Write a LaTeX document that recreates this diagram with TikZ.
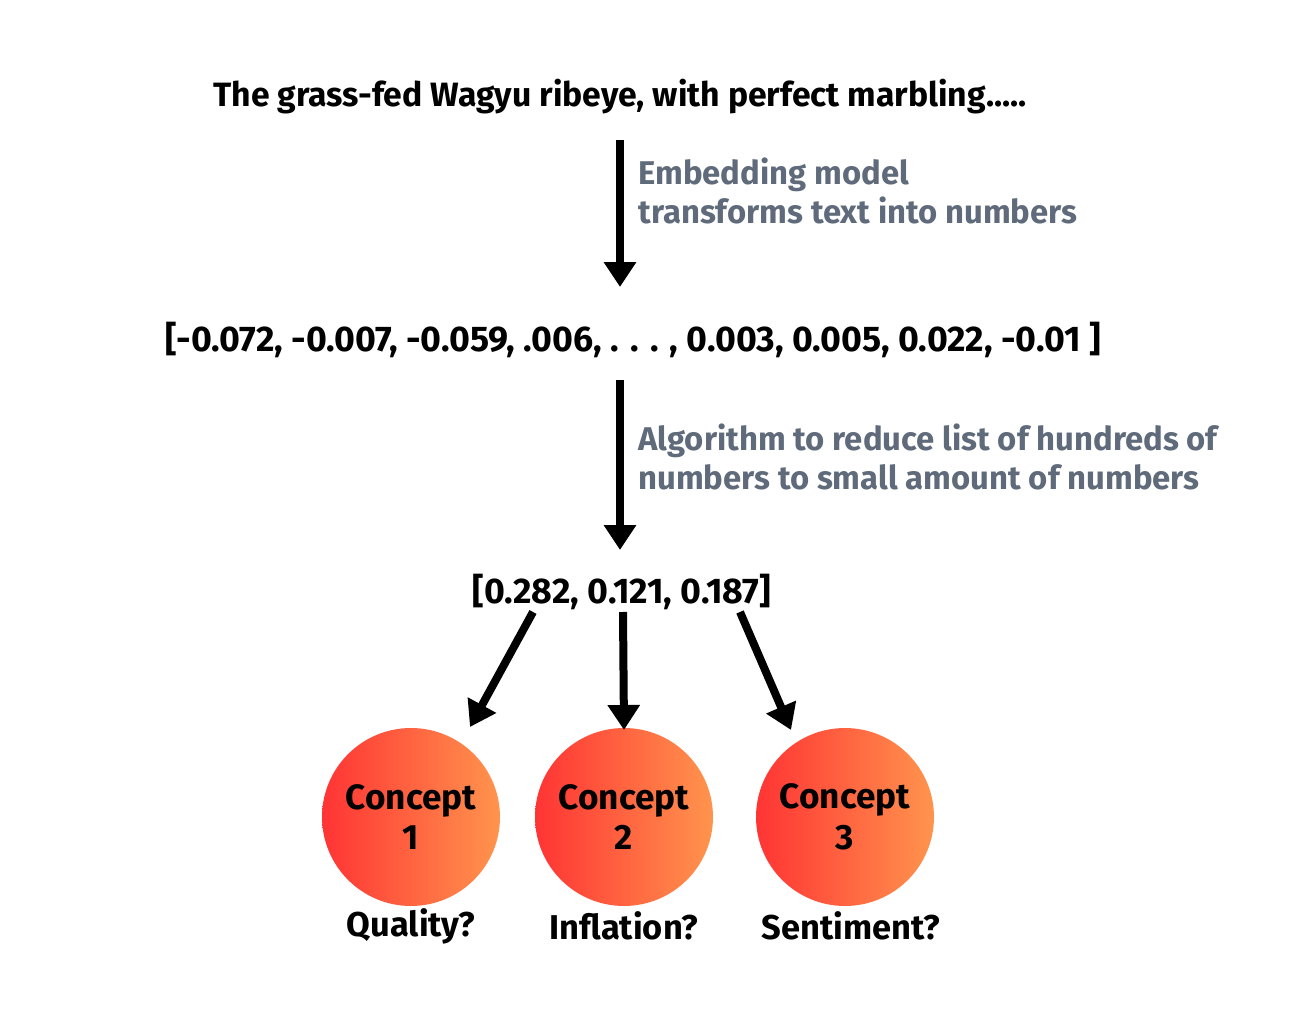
\documentclass[tikz,border=0pt]{standalone}
\usepackage{fontspec}
\setmainfont{Fira Sans}
\usepackage{xcolor}
\usepackage{tikz}
\usetikzlibrary{arrows.meta}

\definecolor{notegray}{HTML}{5F6B7A}
\definecolor{hotred}{HTML}{FF3434}
\definecolor{softorange}{HTML}{FF944D}

\begin{document}
\begin{tikzpicture}[x=0.02cm,y=-0.02cm,
txt/.style={font=\fontsize{19.2}{23}\selectfont\bfseries,inner sep=0pt},
vec/.style={font=\fontsize{20.3}{24}\selectfont\bfseries,inner sep=0pt},
note/.style={font=\fontsize{18.7}{22.4}\selectfont\bfseries,text=notegray,align=left,anchor=west,inner sep=0pt},
flow/.style={line width=0.16cm,-{Triangle[length=0.5cm,width=0.62cm]}},
concept/.style={circle,minimum size=3.56cm,inner sep=0pt,left color=hotred,right color=softorange,
    font=\fontsize{20}{23}\selectfont\bfseries,align=center},
tag/.style={font=\fontsize{19.6}{23}\selectfont\bfseries,inner sep=0pt}]
\useasboundingbox (0,0) rectangle (1306,1010);
\node (sentence) [txt] at (620,97) {The grass-fed Wagyu ribeye, with perfect marbling.....};
\node (vecfull) [vec] at (633,340) {[-0.072, -0.007, -0.059, .006, . . . , 0.003, 0.005, 0.022, -0.01 ]};
\node (vecsmall) [vec] at (622,592) {[0.282, 0.121, 0.187]};
\coordinate (top1) at (620,140);
\coordinate (end1) at (620,287);
\coordinate (top2) at (620,380);
\coordinate (end2) at (620,550);
\draw[flow] (top1) -- (end1);
\draw[flow] (top2) -- (end2);
\node (embnote) [note] at (638,191) {Embedding model\\transforms text into numbers};
\node (algnote) [note] at (638,457) {Algorithm to reduce list of hundreds of\\numbers to small amount of numbers};
% the three concepts
\node (c1) [concept] at (411,817) {Concept\\1};
\node (c2) [concept] at (624,817) {Concept\\2};
\node (c3) [concept] at (845,817) {Concept\\3};
\node (q1) [tag] at (411,926) {Quality?};
\node (q2) [tag] at (624,926) {Inflation?};
\node (q3) [tag] at (851,926) {Sentiment?};
\coordinate (s1) at (533,612);
\coordinate (s2) at (623,612);
\coordinate (s3) at (740,612);
\coordinate (e1) at (470,727);
\coordinate (e2) at (624,730);
\coordinate (e3) at (791,730);
\draw[flow] (s1) -- (e1);
\draw[flow] (s2) -- (e2);
\draw[flow] (s3) -- (e3);
\end{tikzpicture}
\end{document}
